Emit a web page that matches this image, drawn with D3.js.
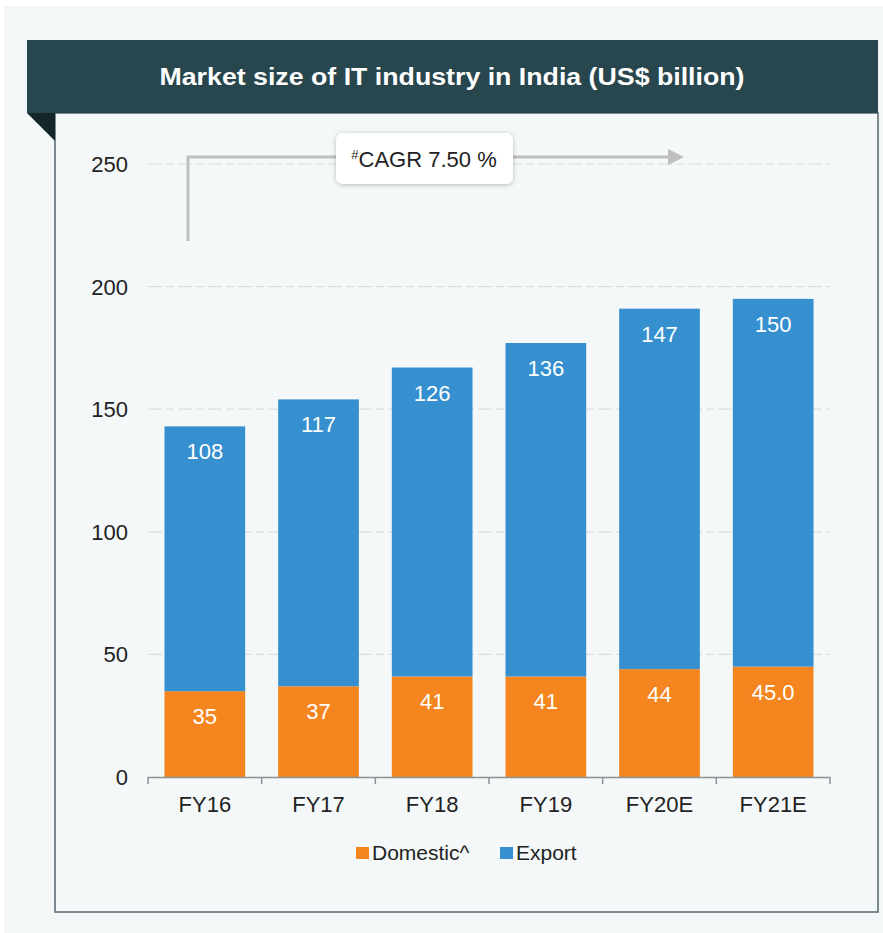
<!DOCTYPE html>
<html>
<head>
<meta charset="utf-8">
<script src="https://cdn.jsdelivr.net/npm/d3@7"></script>
<style>
  body { margin: 0; background: #fff; }
  svg { display: block; font-family: "Liberation Sans", Arial, sans-serif; }
</style>
</head>
<body>
<svg id="chart" width="883" height="933"></svg>
<script>
// data
const years = ['FY16', 'FY17', 'FY18', 'FY19', 'FY20E', 'FY21E'];
const domestic = [35, 37, 41, 41, 44, 45];
const exportVals = [108, 117, 126, 136, 147, 150];
const domesticLabels = ['35', '37', '41', '41', '44', '45.0'];
const exportLabels = ['108', '117', '126', '136', '147', '150'];
const yTicks = [0, 50, 100, 150, 200, 250];
const seriesNames = ['Domestic^', 'Export'];

const colors = { domestic: '#F5861F', export: '#3690D0' };

const svg = d3.select('#chart');

// page background panel
svg.append('rect').attr('x', 4).attr('y', 6).attr('width', 879).attr('height', 927).attr('fill', '#F3F7F8');

// chart box
svg.append('rect')
  .attr('x', 55).attr('y', 113).attr('width', 823).attr('height', 799)
  .attr('fill', '#F4F8F9').attr('stroke', '#55676D').attr('stroke-width', 1.5);

// title bar + fold
svg.append('path').attr('d', 'M27,113 L55,113 L55,141 Z').attr('fill', '#152629');
svg.append('rect').attr('x', 27).attr('y', 40).attr('width', 851).attr('height', 73).attr('fill', '#28464D');
svg.append('text')
  .attr('x', 452).attr('y', 85)
  .attr('text-anchor', 'middle')
  .attr('fill', '#fff').attr('font-weight', 'bold').attr('font-size', 23)
  .attr('textLength', 585).attr('lengthAdjust', 'spacingAndGlyphs')
  .text('Market size of IT industry in India (US$ billion)');

// scales
const x = d3.scaleBand().domain(years).range([148, 830]).paddingInner(0.29).paddingOuter(0.145);
const y = d3.scaleLinear().domain([0, 250]).range([777, 164]);

// gridlines
svg.append('g').selectAll('line')
  .data(yTicks.filter(d => d > 0))
  .enter().append('line')
  .attr('x1', 148).attr('x2', 830)
  .attr('y1', d => y(d)).attr('y2', d => y(d))
  .attr('stroke', '#D9DDDF').attr('stroke-width', 1.2)
  .attr('stroke-dasharray', '14,4,8,4');

// y labels
svg.append('g').selectAll('text')
  .data(yTicks)
  .enter().append('text')
  .attr('x', 128).attr('y', d => y(d) + 8)
  .attr('text-anchor', 'end')
  .attr('font-size', 22).attr('fill', '#222')
  .text(d => d);

// stacked bars
const rows = years.map((yr, i) => ({ yr, dom: domestic[i], exp: exportVals[i], i }));
const bars = svg.append('g');
bars.selectAll('.dom').data(rows).enter().append('rect')
  .attr('x', d => x(d.yr)).attr('width', x.bandwidth())
  .attr('y', d => y(d.dom)).attr('height', d => y(0) - y(d.dom))
  .attr('fill', colors.domestic);
bars.selectAll('.exp').data(rows).enter().append('rect')
  .attr('x', d => x(d.yr)).attr('width', x.bandwidth())
  .attr('y', d => y(d.dom + d.exp)).attr('height', d => y(d.dom) - y(d.dom + d.exp))
  .attr('fill', colors.export);

// value labels
bars.selectAll('.dl').data(rows).enter().append('text')
  .attr('x', d => x(d.yr) + x.bandwidth() / 2)
  .attr('y', d => y(d.dom) + 33)
  .attr('text-anchor', 'middle').attr('fill', '#fff').attr('font-size', 22)
  .text(d => domesticLabels[d.i]);
bars.selectAll('.el').data(rows).enter().append('text')
  .attr('x', d => x(d.yr) + x.bandwidth() / 2)
  .attr('y', d => y(d.dom + d.exp) + 33)
  .attr('text-anchor', 'middle').attr('fill', '#fff').attr('font-size', 22)
  .text(d => exportLabels[d.i]);

// x axis
const xAxis = svg.append('g');
xAxis.append('line').attr('x1', 148).attr('x2', 830).attr('y1', 777.5).attr('y2', 777.5)
  .attr('stroke', '#8C9194').attr('stroke-width', 1.5);
const bounds = d3.range(years.length + 1).map(i => 148 + i * x.step());
xAxis.selectAll('.tk').data(bounds).enter().append('line')
  .attr('x1', d => d).attr('x2', d => d).attr('y1', 777).attr('y2', 784)
  .attr('stroke', '#8C9194').attr('stroke-width', 1.5);
xAxis.selectAll('text').data(years).enter().append('text')
  .attr('x', d => x(d) + x.bandwidth() / 2).attr('y', 812)
  .attr('text-anchor', 'middle').attr('font-size', 22).attr('fill', '#222')
  .text(d => d);

// CAGR annotation
const defs = svg.append('defs');
const filt = defs.append('filter').attr('id', 'shadow').attr('x', '-20%').attr('y', '-30%').attr('width', '140%').attr('height', '160%');
filt.append('feDropShadow').attr('dx', 0).attr('dy', 1).attr('stdDeviation', 2.5).attr('flood-color', '#000').attr('flood-opacity', 0.25);

svg.append('path')
  .attr('d', 'M188,241 L188,157 L670,157')
  .attr('fill', 'none').attr('stroke', '#BFBFBF').attr('stroke-width', 3);
svg.append('path').attr('d', 'M668,149 L684,157 L668,165 Z').attr('fill', '#BFBFBF');

svg.append('rect')
  .attr('x', 336).attr('y', 133).attr('width', 177).attr('height', 51).attr('rx', 7)
  .attr('fill', '#fff').attr('filter', 'url(#shadow)');
const cagr = svg.append('text').attr('x', 424).attr('y', 167)
  .attr('text-anchor', 'middle').attr('font-size', 22).attr('fill', '#222');
cagr.append('tspan').attr('font-size', 13).attr('dy', -8).text('#');
cagr.append('tspan').attr('dy', 8).text('CAGR 7.50 %');

// legend
const legend = svg.append('g');
const legItems = [
  { name: seriesNames[0], color: colors.domestic, x: 356 },
  { name: seriesNames[1], color: colors.export, x: 500 }
];
legItems.forEach(it => {
  legend.append('rect').attr('x', it.x).attr('y', 847).attr('width', 13).attr('height', 12).attr('fill', it.color);
  legend.append('text').attr('x', it.x + 16).attr('y', 860)
    .attr('font-size', 21).attr('fill', '#222').text(it.name);
});
</script>
</body>
</html>
